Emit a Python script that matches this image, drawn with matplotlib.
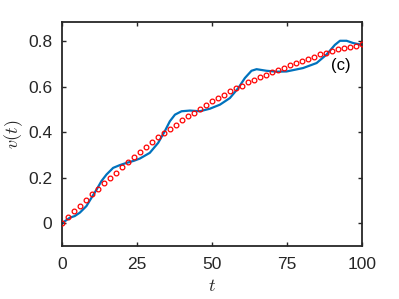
import numpy as np
import matplotlib.pyplot as plt

plt.rcParams['font.family'] = ['Liberation Sans', 'DejaVu Sans']
plt.rcParams['mathtext.fontset'] = 'cm'

# reference solution (red circles), every 2 time units
t_ref = np.arange(0, 101, 2)
v_ref = [0.0, 0.029, 0.054, 0.078, 0.102, 0.129, 0.152, 0.177, 0.200, 0.222,
         0.247, 0.269, 0.293, 0.315, 0.335, 0.357, 0.379, 0.398, 0.415, 0.433,
         0.453, 0.471, 0.487, 0.505, 0.521, 0.537, 0.550, 0.565, 0.581, 0.594,
         0.605, 0.622, 0.632, 0.642, 0.654, 0.664, 0.674, 0.684, 0.696, 0.706,
         0.715, 0.724, 0.733, 0.743, 0.750, 0.758, 0.765, 0.771, 0.777, 0.782,
         0.788]

# computed solution (blue line)
t_sim = [0, 2.7, 4.3, 6.0, 8.2, 9.9, 11.6, 13.2, 14.9, 17.1, 19.3, 21.6, 24.0,
         26.0, 29.3, 32.1, 34.3, 36.0, 37.7, 39.9, 42.7, 46.0, 49.3, 52.7,
         56.0, 58.8, 61.0, 63.2, 64.9, 68.2, 71.6, 74.9, 80.4, 84.9, 88.2,
         91.0, 92.7, 94.9, 97.1, 100]
v_sim = [0.0, 0.025, 0.032, 0.047, 0.076, 0.113, 0.149, 0.186, 0.215, 0.244,
         0.256, 0.266, 0.275, 0.285, 0.310, 0.354, 0.405, 0.449, 0.478, 0.493,
         0.496, 0.493, 0.504, 0.522, 0.551, 0.595, 0.639, 0.671, 0.678, 0.671,
         0.667, 0.668, 0.683, 0.705, 0.742, 0.785, 0.803, 0.803, 0.793, 0.785]

fig = plt.figure(figsize=(3.99, 2.99), dpi=100)
ax = fig.add_axes([0.155, 0.177, 0.752, 0.749])

ax.plot(t_sim, v_sim, color='#0072BD', lw=1.6, zorder=2)
ax.plot(t_ref, v_ref, 'o', mfc='none', mec='r', ms=3.4, mew=0.9, zorder=3)

ax.set_xlim(0, 100)
ax.set_ylim(-0.1, 0.885)
ax.set_xticks([0, 25, 50, 75, 100])
ax.set_yticks([0, 0.2, 0.4, 0.6, 0.8])
ax.set_yticklabels(['0', '0.2', '0.4', '0.6', '0.8'])

ax.tick_params(direction='in', length=3, width=1, top=True, right=True,
               labelsize=12.5, colors='#262626')
ax.tick_params(axis='x', pad=8)
ax.tick_params(axis='y', pad=7)
for s in ax.spines.values():
    s.set_linewidth(1.3)
    s.set_color('#262626')

ax.set_xlabel('$t$', fontsize=13, color='#262626', labelpad=4)
ax.set_ylabel('$v(t)$', fontsize=13, color='#262626', labelpad=2)
ax.text(93, 0.695, '(c)', fontsize=12, ha='center', va='center', color='k')

fig.savefig('out.png', dpi=100)
